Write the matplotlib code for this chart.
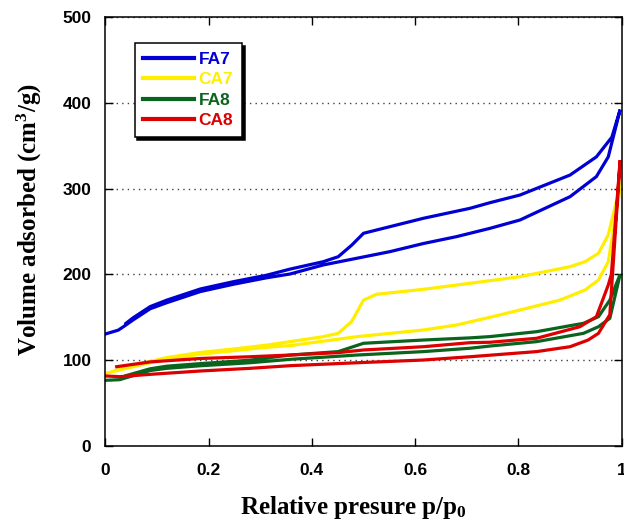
import numpy as np
import matplotlib
matplotlib.use("Agg")
import matplotlib.pyplot as plt

# N2 isotherms: adsorption branch then desorption branch for each sample
fa7_ads_p = [0, 0.025, 0.035, 0.054, 0.087, 0.119, 0.184, 0.248, 0.312, 0.358, 0.422,
             0.487, 0.551, 0.616, 0.68, 0.745, 0.803, 0.9, 0.951, 0.974, 0.997]
fa7_ads_v = [130.5, 135, 139, 147, 160, 167, 180, 188.5, 196, 200.5, 211,
             218.8, 226.5, 236, 244, 253.7, 263.4, 290.6, 314, 337, 392]
fa7_des_p = [0.997, 0.981, 0.951, 0.9, 0.803, 0.745, 0.706, 0.616, 0.525, 0.5, 0.477,
             0.451, 0.422, 0.358, 0.312, 0.248, 0.184, 0.119, 0.087, 0.054, 0.04]
fa7_des_v = [392, 360, 337, 315.8, 292.5, 283.6, 277, 265.4, 251.7, 247.9, 234,
             220.6, 214.8, 206.2, 199, 191.5, 183, 170, 162.5, 149.5, 143]

ca7_ads_p = [0, 0.054, 0.087, 0.119, 0.184, 0.248, 0.312, 0.358, 0.487, 0.616, 0.68,
             0.745, 0.803, 0.88, 0.929, 0.955, 0.974, 0.999]
ca7_ads_v = [84.7, 92.4, 97, 101, 107, 111, 115, 117, 127.4, 135.2, 141,
             150, 158.5, 170, 181.8, 193.5, 214.8, 308]
ca7_des_p = [0.999, 0.974, 0.955, 0.929, 0.9, 0.803, 0.706, 0.616, 0.525, 0.5, 0.477,
             0.451, 0.422, 0.358, 0.312, 0.248, 0.184, 0.119, 0.054, 0.02]
ca7_des_v = [308, 246, 224.6, 214.8, 209, 197.3, 189.6, 182.6, 176.8, 170, 145,
             131.3, 127.4, 121.6, 117.5, 113, 109, 103, 94, 88]

fa8_ads_p = [0, 0.028, 0.087, 0.119, 0.184, 0.28, 0.358, 0.487, 0.616, 0.706, 0.745,
             0.835, 0.926, 0.955, 0.977, 0.997]
fa8_ads_v = [76.5, 77.3, 88, 90.5, 93.5, 97, 101, 106, 110, 113.9, 116.5,
             121.6, 131.3, 139, 148.8, 200]
fa8_des_p = [0.997, 0.977, 0.955, 0.926, 0.835, 0.745, 0.706, 0.616, 0.5, 0.451, 0.358,
             0.28, 0.184, 0.119, 0.087, 0.04]
fa8_des_v = [200, 170, 150.7, 143, 133.2, 127.5, 126, 123.5, 119.7, 110, 106,
             100, 96, 93, 90, 82]

ca8_ads_p = [0, 0.028, 0.087, 0.184, 0.28, 0.358, 0.487, 0.616, 0.706, 0.835, 0.9,
             0.935, 0.955, 0.977, 0.997]
ca8_ads_v = [81.6, 80.8, 83.5, 87.4, 90.5, 93.6, 97, 100.2, 104, 110, 115.7,
             123.5, 131.3, 153, 333]
ca8_des_p = [0.997, 0.98, 0.974, 0.951, 0.919, 0.835, 0.745, 0.706, 0.616, 0.5, 0.451,
             0.358, 0.28, 0.184, 0.087, 0.022]
ca8_des_v = [333, 200, 187.6, 150.7, 139, 125.5, 120.9, 120.4, 115.7, 111.9, 108.8,
             106, 104, 102, 98, 92.4]

samples = ["FA7", "CA7", "FA8", "CA8"]
colors = ["#0000d2", "#ffee00", "#0a641e", "#dc0000"]
branches = [
    (fa7_ads_p, fa7_ads_v, fa7_des_p, fa7_des_v),
    (ca7_ads_p, ca7_ads_v, ca7_des_p, ca7_des_v),
    (fa8_ads_p, fa8_ads_v, fa8_des_p, fa8_des_v),
    (ca8_ads_p, ca8_ads_v, ca8_des_p, ca8_des_v),
]

x_ticks = [0, 0.2, 0.4, 0.6, 0.8, 1]
x_ticklabels = ["0", "0.2", "0.4", "0.6", "0.8", "1"]
y_ticks = [0, 100, 200, 300, 400, 500]

plt.rcParams["mathtext.fontset"] = "custom"
plt.rcParams["mathtext.rm"] = "Liberation Serif:bold"
plt.rcParams["mathtext.it"] = "Liberation Serif:bold"
plt.rcParams["mathtext.bf"] = "Liberation Serif:bold"

fig = plt.figure(figsize=(6.24, 5.32), dpi=100)
ax = fig.add_axes([0.1688, 0.1617, 0.8275, 0.8063])

for name, col, (ap, av, dp, dv) in zip(samples, colors, branches):
    # one closed loop per sample: up the adsorption branch, back down desorption
    ax.plot(np.concatenate([ap, dp]), np.concatenate([av, dv]),
            color=col, lw=2.3, label=name, solid_joinstyle="miter")

ax.set_xlim(0, 1)
ax.set_ylim(0, 500)
ax.set_xticks(x_ticks)
ax.set_xticklabels(x_ticklabels)
ax.set_yticks(y_ticks)

tick_font = dict(family="Liberation Sans", weight="bold", size=12.5)
for lab in ax.get_xticklabels() + ax.get_yticklabels():
    lab.set_fontproperties(matplotlib.font_manager.FontProperties(**tick_font))

ax.tick_params(direction="in", length=6, width=1, top=True, right=True)
ax.tick_params(axis="x", pad=12)
ax.tick_params(axis="y", pad=10)

for sp in ax.spines.values():
    sp.set_linewidth(1.1)

ax.yaxis.grid(True, linestyle=(0, (1, 3)), color="0.25", lw=1)
ax.set_axisbelow(True)

label_font = dict(family="Liberation Serif", weight="bold", size=18)
ax.set_xlabel(r"Relative presure p/p$_0$", **label_font)
ax.set_ylabel(r"Volume adsorbed (cm$^3$/g)", **label_font)
ax.xaxis.set_label_coords(0.48, -0.112)
ax.yaxis.set_label_coords(-0.118, 0.528)

leg = ax.legend(loc="upper left", bbox_to_anchor=(0.0565, 0.939), borderaxespad=0,
                prop=dict(family="Liberation Sans", weight="bold", size=12.5),
                handlelength=2.9, handletextpad=0.3, labelspacing=0.3,
                borderpad=0.5, fancybox=False, framealpha=1,
                shadow={"color": "black", "alpha": 1})
leg.get_frame().set_edgecolor("black")
leg.get_frame().set_linewidth(1.1)
for txt, col in zip(leg.get_texts(), colors):
    txt.set_color(col)
for line in leg.get_lines():
    line.set_linewidth(3)

fig.savefig("out.png", dpi=100)
